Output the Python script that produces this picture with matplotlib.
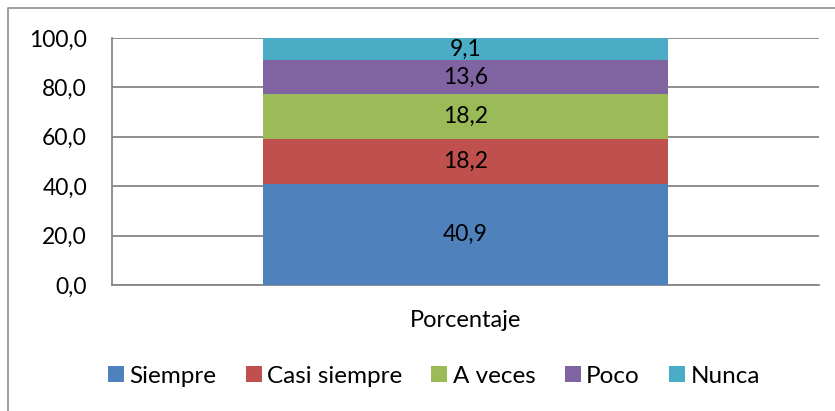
import matplotlib
matplotlib.use("Agg")
import matplotlib.pyplot as plt
from matplotlib.lines import Line2D
from matplotlib.patches import Patch
from matplotlib.ticker import FuncFormatter

plt.rcParams['font.family'] = ['Lato', 'DejaVu Sans']

category = ['Porcentaje']
series = ['Siempre', 'Casi siempre', 'A veces', 'Poco', 'Nunca']
values = [40.9, 18.2, 18.2, 13.6, 9.1]
colors = ['#4F81BD', '#C0504D', '#9BBB59', '#8064A2', '#4BACC6']
yticks = [0, 20, 40, 60, 80, 100]

W, H = 835, 411
fig = plt.figure(figsize=(W / 100, H / 100), dpi=100)

# outer chart frame (only top and left visible, chart is cropped)
fig.add_artist(Line2D([8 / W, 8 / W, 1.0], [0.0, 1 - 8 / H, 1 - 8 / H],
                      transform=fig.transFigure, color='#8c8c8c', lw=1.2))

ax = fig.add_axes([112 / W, 126 / H, 707 / W, 247 / H])

bottom = 0
for name, v, c in zip(series, values, colors):
    bars = ax.bar(category, [v], bottom=bottom, width=0.573, color=c,
                  label=name, zorder=3)
    ax.bar_label(bars, labels=[f'{v:.1f}'.replace('.', ',')],
                 label_type='center', fontsize=16.5, color='black')
    bottom += v

ax.set_xlim(-0.5, 0.5)
ax.set_ylim(0, 100)
ax.set_yticks(yticks)
ax.yaxis.set_major_formatter(FuncFormatter(lambda y, _: f'{y:.1f}'.replace('.', ',')))
ax.grid(axis='y', color='#868686', lw=1.3, zorder=0)
ax.tick_params(axis='y', length=0, pad=18, labelsize=16.5)
ax.tick_params(axis='x', length=0, pad=18, labelsize=17)
for s in ['top', 'right']:
    ax.spines[s].set_visible(False)
for s in ['left', 'bottom']:
    ax.spines[s].set_color('#868686')
    ax.spines[s].set_linewidth(1.3)

handles = [Patch(facecolor=c, edgecolor='none') for c in colors]
fig.legend(handles, series, loc='center', bbox_to_anchor=(434 / W, 1 - 376 / H),
           ncol=5, frameon=False, fontsize=17.5, handlelength=0.66,
           handleheight=0.62, handletextpad=0.22, columnspacing=1.2)

fig.savefig('out.png', dpi=100)
